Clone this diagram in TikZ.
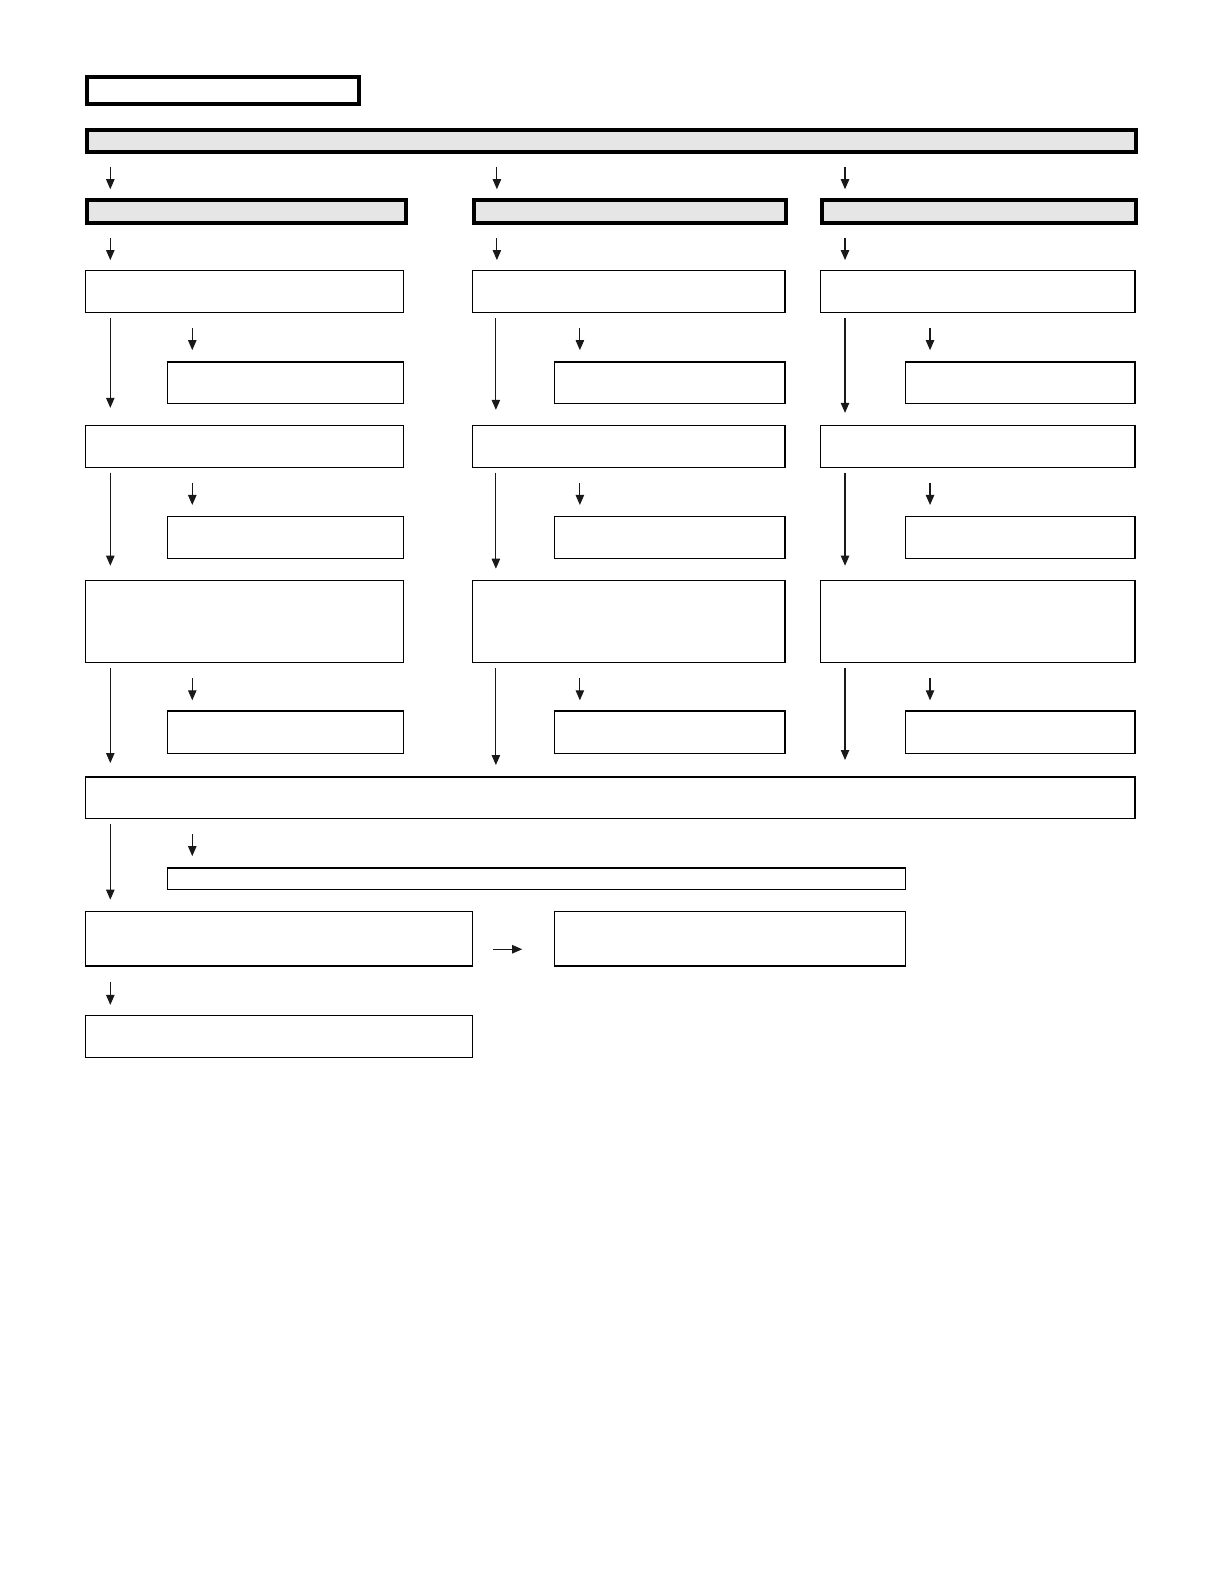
\documentclass[tikz,border=0pt]{standalone}
\usetikzlibrary{arrows.meta}
\definecolor{bannergray}{HTML}{E6E6E6}
\tikzset{
  thickbox/.style={draw=black, line width=2pt, fill=white, inner sep=0pt, anchor=north west},
  graybox/.style={thickbox, fill=bannergray},
  thinbox/.style={draw=black, line width=0.65pt, fill=white, inner sep=0pt, anchor=north west},
  arr/.style={draw=black!90, line width=0.55pt, -{Triangle[length=5pt,width=4.2pt]}}
}
\newcommand\bx[6]{\node[#1, minimum width={(#4-#2)*0.506pt}, minimum height={(#5-#3)*0.506pt}] (#6) at (#2,#3) {};}
\newcommand\varr[4]{\coordinate (#1s) at (#2,#3); \coordinate (#1e) at (#2,#4); \draw[arr] (#1s) -- (#1e);}
\begin{document}
\begin{tikzpicture}[x=0.506pt,y=-0.506pt]
\useasboundingbox (0pt,0pt) rectangle (610pt,-794pt);
% title and banner
\bx{thickbox}{84}{74}{353}{101}{title}
\bx{graybox}{84}{126}{1121}{148}{banner}
% column headers
\bx{graybox}{84}{196}{399}{218}{h1}
\bx{graybox}{466}{196}{775}{218}{h2}
\bx{graybox}{810}{196}{1121}{218}{h3}
\varr{t1}{109}{165}{187}
\varr{t2}{491}{165}{187}
\varr{t3}{835}{165}{187}
\varr{u1}{109}{235}{257}
\varr{u2}{491}{235}{257}
\varr{u3}{835}{235}{257}
% row 1
\bx{thinbox}{84}{267}{398}{308}{ra1}
\bx{thinbox}{466}{267}{775}{308}{ra2}
\bx{thinbox}{810}{267}{1121}{308}{ra3}
\varr{sa1}{190}{324}{346}
\varr{sa2}{573}{324}{346}
\varr{sa3}{919}{324}{346}
\bx{thinbox}{165}{357}{398}{398}{ba1}
\bx{thinbox}{547}{357}{775}{398}{ba2}
\bx{thinbox}{894}{357}{1121}{398}{ba3}
\varr{la1}{109}{314}{403}
\varr{la2}{490}{314}{405}
\varr{la3}{835}{314}{408}
% row 2
\bx{thinbox}{84}{420}{398}{461}{rb1}
\bx{thinbox}{466}{420}{775}{461}{rb2}
\bx{thinbox}{810}{420}{1121}{461}{rb3}
\varr{sb1}{190}{477}{499}
\varr{sb2}{573}{477}{499}
\varr{sb3}{919}{477}{499}
\bx{thinbox}{165}{510}{398}{551}{bb1}
\bx{thinbox}{547}{510}{775}{551}{bb2}
\bx{thinbox}{894}{510}{1121}{551}{bb3}
\varr{lb1}{109}{467}{559}
\varr{lb2}{490}{467}{562}
\varr{lb3}{835}{467}{559}
% row 3
\bx{thinbox}{84}{573}{398}{654}{rc1}
\bx{thinbox}{466}{573}{775}{654}{rc2}
\bx{thinbox}{810}{573}{1121}{654}{rc3}
\varr{sc1}{190}{670}{692}
\varr{sc2}{573}{670}{692}
\varr{sc3}{919}{670}{692}
\bx{thinbox}{165}{702}{398}{744}{bc1}
\bx{thinbox}{547}{702}{775}{744}{bc2}
\bx{thinbox}{894}{702}{1121}{744}{bc3}
\varr{lc1}{109}{660}{754}
\varr{lc2}{490}{660}{756}
\varr{lc3}{835}{660}{751}
% bottom
\bx{thinbox}{84}{767}{1121}{808}{big}
\varr{ld}{109}{814}{889}
\varr{sd}{190}{824}{846}
\bx{thinbox}{165}{857}{894}{878}{strip}
\bx{thinbox}{84}{900}{466}{954}{boxA}
\bx{thinbox}{547}{900}{894}{954}{boxB}
\coordinate (hs) at (487,938); \coordinate (he) at (516,938);
\draw[arr] (hs) -- (he);
\varr{le}{109}{970}{993}
\bx{thinbox}{84}{1003}{466}{1044}{final}
\end{tikzpicture}
\end{document}
